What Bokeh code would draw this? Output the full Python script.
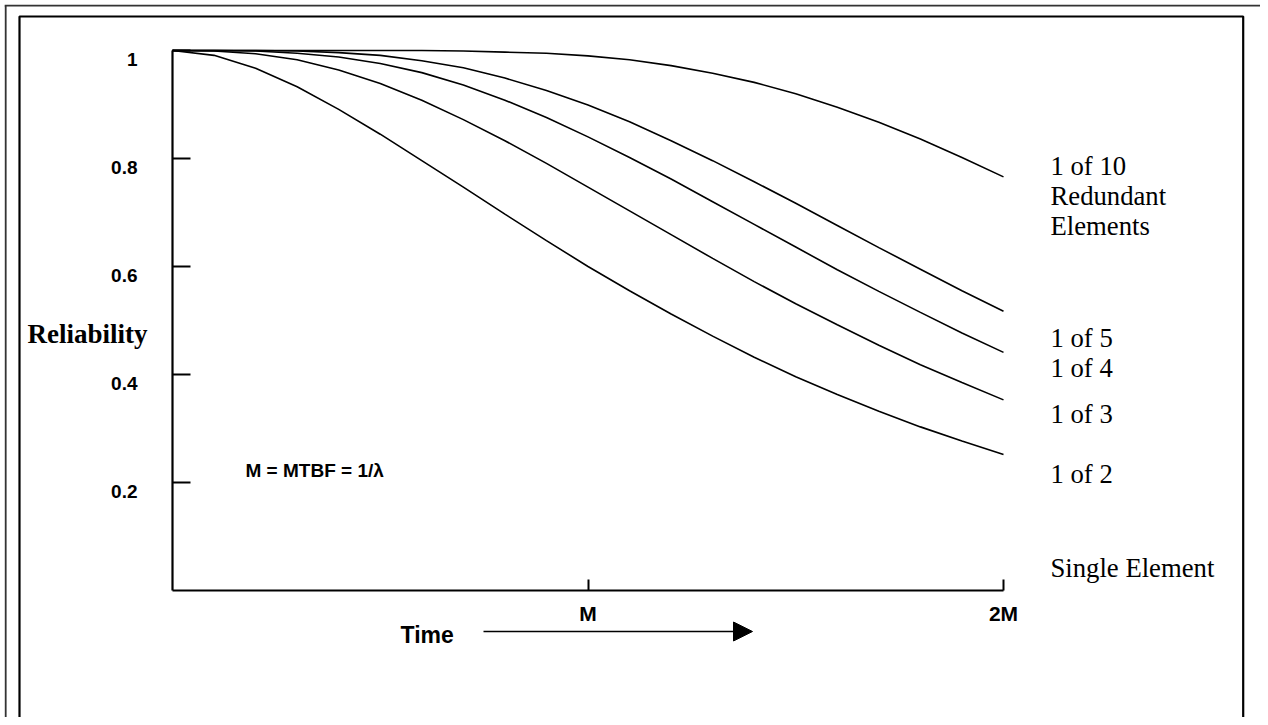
from bokeh.plotting import figure
from bokeh.models import Range1d, LinearAxis, FixedTicker, Arrow, NormalHead, ColumnDataSource
from bokeh.core.properties import value
from bokeh.embed import file_html
from bokeh.resources import INLINE

# ---------------- data ----------------
time_m = [0.0, 0.1, 0.2, 0.3, 0.4, 0.5, 0.6, 0.7, 0.8, 0.9, 1.0,
          1.1, 1.2, 1.3, 1.4, 1.5, 1.6, 1.7, 1.8, 1.9, 2.0]
rel_1_of_10 = [1.000, 1.000, 1.000, 1.000, 1.000, 1.000, 1.000, 0.999, 0.997, 0.995, 0.990,
               0.983, 0.972, 0.958, 0.941, 0.920, 0.895, 0.867, 0.836, 0.802, 0.766]
rel_1_of_5 = [1.000, 1.000, 1.000, 0.999, 0.996, 0.991, 0.981, 0.968, 0.949, 0.926, 0.899,
              0.868, 0.833, 0.796, 0.757, 0.717, 0.676, 0.635, 0.595, 0.555, 0.517]
rel_1_of_4 = [1.000, 1.000, 0.999, 0.995, 0.988, 0.976, 0.959, 0.936, 0.908, 0.876, 0.840,
              0.802, 0.762, 0.720, 0.678, 0.636, 0.594, 0.554, 0.515, 0.477, 0.441]
rel_1_of_3 = [1.000, 0.999, 0.994, 0.983, 0.964, 0.939, 0.908, 0.872, 0.833, 0.791, 0.747,
              0.703, 0.659, 0.615, 0.572, 0.531, 0.492, 0.454, 0.418, 0.385, 0.353]
rel_1_of_2 = [1.000, 0.991, 0.967, 0.933, 0.891, 0.845, 0.796, 0.747, 0.697, 0.648, 0.600,
              0.555, 0.512, 0.471, 0.432, 0.396, 0.363, 0.332, 0.303, 0.277, 0.252]

y_ticks = [0.2, 0.4, 0.6, 0.8, 1.0]
y_tick_labels = ["0.2", "0.4", "0.6", "0.8", "1"]
x_ticks = [1, 2]
x_tick_labels = ["M", "2M"]

curve_labels = ["1 of 10", "Redundant", "Elements", "1 of 5", "1 of 4", "1 of 3", "1 of 2", "Single Element"]
y_title = "Reliability"
x_title = "Time"
note = "M = MTBF = 1/\u03bb"

# ---------------- layout (picture pixels -> data units) ----------------
PAGE_X0, PAGE_Y0 = 0, 0          # canvas origin in the photographed picture
W, H = 1260, 717
X_ZERO, X_UNIT = 172.0, 415.5    # picture x of t=0, pixels per M
Y_ZERO, Y_UNIT = 590.0, 540.0    # picture y of R=0, pixels per unit R
LABEL_DROP = 9.0                 # y tick labels sit a little below their ticks


def dx(px):
    return (px - X_ZERO) / X_UNIT


def dy(py):
    return (Y_ZERO - py) / Y_UNIT


p = figure(width=W, height=H,
           x_range=Range1d(dx(PAGE_X0), dx(PAGE_X0 + W)),
           y_range=Range1d(dy(PAGE_Y0 + H), dy(PAGE_Y0)),
           x_axis_type=None, y_axis_type=None,
           output_backend="svg", toolbar_location=None,
           min_border=0, outline_line_color=None,
           background_fill_color="white", border_fill_color="white")

# frames (outer grey, inner black)
p.multi_line(xs=[[dx(5.2), dx(5.2)], [dx(4.2), dx(1268)]],
             ys=[[dy(760), dy(5.2)], [dy(5.2), dy(5.2)]],
             line_color="#333333", line_width=1.8)
p.multi_line(xs=[[dx(19), dx(19), dx(1242.7), dx(1242.7)]],
             ys=[[dy(760), dy(16), dy(16), dy(760)]],
             line_color="black", line_width=2.2)

# y axis: line + inward ticks
yaxis = LinearAxis(fixed_location=0, bounds=(0, 1),
                   ticker=FixedTicker(ticks=y_ticks),
                   axis_line_width=2.2, axis_line_color="black",
                   major_tick_in=18, major_tick_out=0, major_tick_line_width=2,
                   minor_tick_line_color=None,
                   major_label_text_color=None, major_label_text_font_size="1px")
p.add_layout(yaxis, "left")

# y axis labels (placed slightly under each tick, as in the original)
shifted = [t - LABEL_DROP / Y_UNIT for t in y_ticks]
ylabels = LinearAxis(fixed_location=0,
                     ticker=FixedTicker(ticks=shifted),
                     major_label_overrides={t: l for t, l in zip(shifted, y_tick_labels)},
                     axis_line_color=None, major_tick_line_color=None, minor_tick_line_color=None,
                     major_tick_in=0, major_tick_out=0,
                     major_label_standoff=35,
                     major_label_text_font="Liberation Sans", major_label_text_font_style="bold",
                     major_label_text_font_size="19px", major_label_text_color="black")
p.add_layout(ylabels, "left")

xaxis = LinearAxis(fixed_location=0, bounds=(0, 2),
                   ticker=FixedTicker(ticks=x_ticks),
                   major_label_overrides={t: l for t, l in zip(x_ticks, x_tick_labels)},
                   axis_line_width=2.2, axis_line_color="black",
                   major_tick_in=11, major_tick_out=0, major_tick_line_width=2,
                   minor_tick_line_color=None,
                   major_label_standoff=11,
                   major_label_text_font="Liberation Sans", major_label_text_font_style="bold",
                   major_label_text_font_size="21px", major_label_text_color="black")
p.add_layout(xaxis, "below")

# curves
for series in [rel_1_of_2, rel_1_of_3, rel_1_of_4, rel_1_of_5, rel_1_of_10]:
    p.line(time_m, series, line_color="black", line_width=1.6)

# curve labels
label_baselines = [165, 195, 225, 337, 367, 413, 473, 567]
lab_src = ColumnDataSource(dict(x=[dx(1050)] * len(curve_labels),
                                y=[dy(b) for b in label_baselines],
                                text=curve_labels))
p.text(x="x", y="y", text="text", source=lab_src,
       text_font=value("Liberation Serif"), text_font_size="26.7px",
       text_align="left", text_baseline="alphabetic", text_color="black")

# titles / notes
p.text(x=[dx(27)], y=[dy(333)], text=[y_title],
       text_font=value("Liberation Serif"), text_font_style="bold", text_font_size="27px",
       text_align="left", text_baseline="alphabetic", text_color="black")
p.text(x=[dx(400)], y=[dy(634)], text=[x_title],
       text_font=value("Liberation Sans"), text_font_style="bold", text_font_size="23px",
       text_align="left", text_baseline="alphabetic", text_color="black")
p.text(x=[dx(245)], y=[dy(470)], text=[note],
       text_font=value("Liberation Sans"), text_font_style="bold", text_font_size="19px",
       text_align="left", text_baseline="alphabetic", text_color="black")

p.add_layout(Arrow(x_start=dx(483), y_start=dy(631), x_end=dx(752), y_end=dy(631),
                   line_color="black", line_width=1.5,
                   end=NormalHead(size=19, fill_color="black", line_color="black")))

open("out.html", "w").write(file_html(p, INLINE))
